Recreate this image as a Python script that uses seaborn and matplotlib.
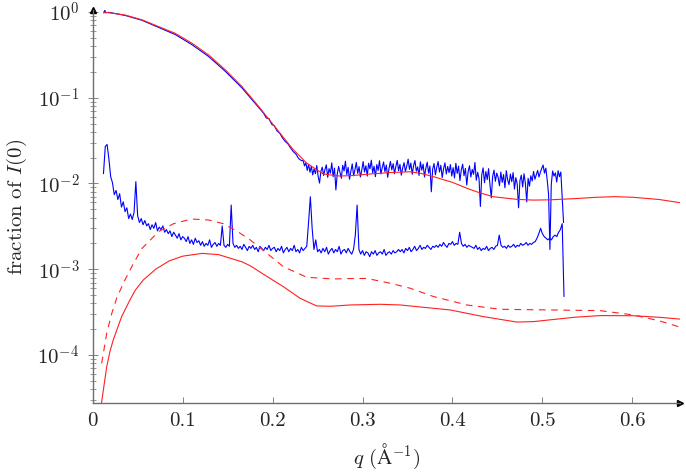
import numpy as np
import pandas as pd
import matplotlib
matplotlib.use('Agg')
import matplotlib.pyplot as plt
from matplotlib.ticker import FuncFormatter, LogLocator, FixedLocator, NullFormatter
import seaborn as sns

# measured curve, upper: Guinier region read point by point (q in 1/A)
hi_head_q = [0.0125, 0.0135, 0.0145, 0.018, 0.025, 0.0363, 0.0548, 0.0733, 0.0919, 0.1105,
             0.129, 0.1475, 0.166, 0.1847, 0.190, 0.193, 0.196, 0.199, 0.202, 0.205,
             0.208, 0.211, 0.214, 0.217, 0.220, 0.223, 0.226, 0.229, 0.232]
hi_head_I = [0.97, 1.05, 0.98, 0.99, 0.96, 0.91, 0.80, 0.66, 0.545, 0.415,
             0.302, 0.203, 0.130, 0.0765, 0.066, 0.058, 0.057, 0.049, 0.047, 0.041,
             0.0385, 0.034, 0.031, 0.029, 0.026, 0.0235, 0.022, 0.0195, 0.0185]

# upper curve, noisy tail (units of 1e-3), evenly sampled q = 0.234 .. 0.5235
hi_tail_start, hi_tail_end = 0.234, 0.5235
hi_tail_milli = [
    18.5, 16.0, 17.5, 14.2, 16.8, 13.5, 15.9, 12.6, 14.8, 13.0, 16.2, 12.1, 10.1, 13.8, 15.5, 12.4, 14.6,
    16.5, 11.8, 14.9, 13.2, 17.4, 12.0, 15.1, 8.4, 12.9, 15.8, 13.4, 11.5, 16.3, 14.0, 18.2, 12.7, 15.4,
    11.2, 13.9, 16.9, 12.3, 14.5, 17.6, 13.1, 15.7, 11.9, 14.3,
    18.0, 13.6, 16.1, 12.2, 17.2, 14.8, 18.7, 13.3, 15.9, 12.0, 16.6, 14.2, 18.4, 12.9, 15.3, 17.8, 13.7,
    16.4, 11.8, 15.0, 18.1, 14.4, 17.0, 13.0, 15.8, 18.6, 14.1, 16.7, 12.5, 15.2, 17.5, 13.8, 16.0,
    19.2, 14.6, 17.3, 12.8, 16.2, 18.5, 13.9, 15.6, 12.4, 17.9, 14.3, 16.8, 11.9, 15.1, 17.7, 13.2, 16.0,
    8.0, 14.7, 17.1, 12.6, 15.5, 18.0, 13.6, 16.3, 11.7, 14.9, 17.4, 12.9, 15.8, 13.4, 16.6, 12.2,
    15.3, 11.6, 17.2, 13.1, 15.9, 10.8, 14.4, 16.8, 12.3, 15.0, 9.6, 13.7, 16.1, 11.9, 14.6, 12.8, 17.6,
    10.9, 13.5, 11.4, 5.4, 12.6, 15.2, 10.2, 13.8, 11.1, 14.9, 9.8, 6.8, 12.1, 14.3, 10.6, 13.2,
    11.8, 9.4, 13.6, 10.3, 12.7, 8.9, 14.1, 11.0, 9.7, 12.9, 10.5, 13.4, 8.6, 11.7, 9.9, 5.2, 10.8,
    12.5, 9.1, 13.0, 10.1, 6.1, 11.5, 9.3, 12.3, 10.7, 13.8, 11.2, 12.6, 14.2, 11.9, 13.5, 15.0,
    16.4, 13.2, 15.1, 11.0, 7.5, 1.7, 9.8, 14.0, 12.2, 13.3, 10.4, 14.1, 12.0, 13.6, 7.0, 3.5,
]

# measured curve, lower (units of 1e-3), evenly sampled q = 0.012 .. 0.524
lo_start, lo_end = 0.012, 0.524
lo_milli = [
    13.0, 27.0, 28.5, 19.5, 12.0,
    10.2, 7.4, 8.3, 6.5, 7.6, 5.3, 6.1, 4.7, 5.2, 3.9,
    4.4, 3.8, 4.6, 10.5,
    4.2, 3.5, 3.9, 3.3, 3.7, 3.2,
    3.4, 2.9, 3.3, 3.0, 3.5, 2.8, 3.1, 2.9, 3.2, 2.7,
    2.9, 2.6, 2.8, 2.4, 2.7, 2.5, 2.3, 2.6, 2.2, 2.4,
    2.3, 2.1, 2.4, 2.0, 2.2, 1.95, 2.3, 2.05, 2.15, 1.9,
    2.1, 1.85, 2.0, 1.9, 2.2, 1.8, 1.95, 2.05, 1.85, 2.0, 1.9,
    3.2, 1.9, 1.8, 1.95, 1.85, 5.6, 2.0, 1.8,
    1.9, 1.75, 1.85, 1.7, 1.95, 1.8, 1.65, 1.85, 1.75, 1.9, 1.7, 1.8, 1.6, 1.85, 1.75, 1.65, 1.8, 1.7,
    1.9, 1.65, 1.75,
    1.8, 1.6, 1.75, 1.65, 1.85, 1.55, 1.7, 1.8, 1.6, 1.75, 1.65, 1.9, 1.6, 1.7, 1.55, 1.8, 1.65, 1.75, 1.85,
    3.5, 7.0, 3.0, 1.7, 2.2, 1.6,
    1.7, 1.55, 1.75, 1.6, 1.8, 1.5, 1.65, 1.75, 1.55, 1.7, 1.6, 1.85, 1.5, 1.65, 1.7, 1.55, 1.75, 1.6,
    1.5, 1.7,
    2.5, 5.6, 1.7,
    1.5, 1.65, 1.45, 1.6, 1.55, 1.4, 1.6, 1.5, 1.65, 1.45, 1.55, 1.6, 1.5, 1.7, 1.45, 1.55, 1.6, 1.5,
    1.65, 1.55, 1.6, 1.7,
    1.6, 1.7, 1.55, 1.75, 1.65, 1.8, 1.6, 1.7, 1.85, 1.65, 1.75, 1.9, 1.7, 1.8, 1.75, 1.9, 1.8, 1.7,
    1.85, 1.8,
    1.9, 1.8, 1.95, 1.85, 2.05, 1.9, 1.8, 2.0, 1.95, 2.1, 1.9, 2.0, 1.95, 2.7, 2.0, 1.85, 1.95, 1.8,
    1.9, 1.85,
    1.8, 1.75, 1.9, 1.7, 1.8, 1.65, 1.75, 1.7, 1.85, 1.65, 1.75, 1.8, 1.7, 1.85, 1.9,
    2.5, 1.9,
    1.8, 1.85, 1.75, 1.9, 1.8, 1.85, 1.95, 1.8, 1.9, 1.85, 2.0, 1.9, 1.95, 2.05, 1.9, 2.0, 1.95, 2.05,
    2.1, 2.3, 2.6, 3.0, 2.6, 2.4, 2.3, 2.2, 2.3, 2.2, 2.4, 2.5, 2.4, 2.7, 2.9, 3.4, 0.48,
]

# model curves
fit_hi_q = [0.012, 0.0363, 0.0548, 0.0733, 0.0919, 0.1105, 0.129, 0.1475, 0.166, 0.1847,
            0.2084, 0.222, 0.238, 0.2565, 0.275, 0.29, 0.3085, 0.33, 0.353, 0.365,
            0.379, 0.40, 0.416, 0.43, 0.4456, 0.4716, 0.49, 0.5087, 0.535, 0.56,
            0.58, 0.601, 0.63, 0.657]
fit_hi_I = [1.0, 0.92, 0.81, 0.675, 0.563, 0.431, 0.315, 0.211, 0.135, 0.0787,
            0.0385, 0.0255, 0.0172, 0.0129, 0.0122, 0.0124, 0.0129, 0.0134, 0.0137, 0.0131,
            0.0120, 0.0103, 0.0088, 0.0078, 0.0070, 0.00653, 0.0064, 0.00645, 0.00665, 0.0069,
            0.00702, 0.0069, 0.0065, 0.00588]

fit_lo_q = [0.0095, 0.010, 0.0156, 0.0192, 0.0229, 0.0322, 0.0415, 0.0474, 0.0563, 0.070,
            0.085, 0.100, 0.1216, 0.14, 0.166, 0.175, 0.188, 0.200, 0.212, 0.2306,
            0.249, 0.265, 0.286, 0.3196, 0.342, 0.3975, 0.4345, 0.4716, 0.490, 0.5087,
            0.535, 0.5643, 0.601, 0.63, 0.657]
fit_lo_I = [2.4e-5, 2.85e-5, 7.3e-5, 1.1e-4, 1.5e-4, 2.8e-4, 4.4e-4, 5.7e-4, 7.5e-4, 1.0e-3,
            1.25e-3, 1.42e-3, 1.53e-3, 1.48e-3, 1.22e-3, 1.1e-3, 9.0e-4, 7.5e-4, 6.26e-4, 4.58e-4,
            3.73e-4, 3.7e-4, 3.83e-4, 3.9e-4, 3.83e-4, 3.35e-4, 2.8e-4, 2.42e-4, 2.45e-4, 2.57e-4,
            2.75e-4, 2.88e-4, 2.87e-4, 2.75e-4, 2.6e-4]

fit_dash_q = [0.010, 0.0156, 0.021, 0.0267, 0.035, 0.045, 0.0548, 0.0734, 0.090, 0.110,
              0.129, 0.145, 0.160, 0.175, 0.190, 0.212, 0.238, 0.2676, 0.29, 0.305,
              0.331, 0.353, 0.379, 0.416, 0.453, 0.5087, 0.564, 0.601, 0.63, 0.657]
fit_dash_I = [8.0e-5, 1.79e-4, 3.0e-4, 4.6e-4, 7.2e-4, 1.15e-3, 1.75e-3, 2.75e-3, 3.4e-3, 3.85e-3,
              3.75e-3, 3.4e-3, 2.8e-3, 2.2e-3, 1.65e-3, 1.07e-3, 8.05e-4, 7.7e-4, 7.8e-4, 7.8e-4,
              6.86e-4, 6.0e-4, 4.8e-4, 3.83e-4, 3.41e-4, 3.35e-4, 3.29e-4, 2.93e-4, 2.5e-4, 2.05e-4]

x_ticks = [0, 0.1, 0.2, 0.3, 0.4, 0.5, 0.6]

# ---- assemble
hi_tail_I = np.array(hi_tail_milli) * 1e-3
hi_q = np.concatenate([hi_head_q, np.linspace(hi_tail_start, hi_tail_end, len(hi_tail_I))])
hi_I = np.concatenate([hi_head_I, hi_tail_I])
lo_I = np.array(lo_milli) * 1e-3
lo_q = np.linspace(lo_start, lo_end, len(lo_I))

sns.set_style('ticks')
plt.rcParams['font.family'] = ['cmr10', 'DejaVu Serif']
plt.rcParams['mathtext.fontset'] = 'cm'
plt.rcParams['axes.formatter.use_mathtext'] = True

fig = plt.figure(figsize=(6.86, 4.73), dpi=100)
ax = fig.add_axes([0.1351, 0.1473, 0.8562, 0.8316])

blue = '#0000ff'
red = '#ff2020'
for q, I in [(hi_q, hi_I), (lo_q, lo_I)]:
    sns.lineplot(x=q, y=I, ax=ax, sort=False, estimator=None, color=blue, lw=0.8)
sns.lineplot(x=fit_hi_q, y=fit_hi_I, ax=ax, sort=False, estimator=None, color=red, lw=0.8)
sns.lineplot(x=fit_lo_q, y=fit_lo_I, ax=ax, sort=False, estimator=None, color=red, lw=0.8)
sns.lineplot(x=fit_dash_q, y=fit_dash_I, ax=ax, sort=False, estimator=None, color=red, lw=0.8,
             linestyle=(0, (6, 5)))

ax.set_yscale('log')
ax.set_xlim(0, 0.653)
ax.set_ylim(2.73e-5, 1.055)

ax.xaxis.set_major_locator(FixedLocator(x_ticks))
ax.xaxis.set_major_formatter(FuncFormatter(lambda v, p: '0' if v == 0 else '%g' % v))
ax.yaxis.set_major_locator(LogLocator(base=10, numticks=10))
ax.yaxis.set_minor_locator(LogLocator(base=10, subs=np.arange(2, 10), numticks=20))
ax.yaxis.set_major_formatter(FuncFormatter(lambda v, p: r'$10^{%d}$' % round(np.log10(v))))
ax.yaxis.set_minor_formatter(NullFormatter())

axis_gray = '#6e6e6e'
for s in ['top', 'right']:
    ax.spines[s].set_visible(False)
for s in ['left', 'bottom']:
    ax.spines[s].set_color(axis_gray)
    ax.spines[s].set_linewidth(1.0)
ax.tick_params(axis='x', which='major', direction='in', length=4.5, width=0.6, color=axis_gray,
               labelsize=15, pad=6)
ax.tick_params(axis='y', which='major', direction='inout', length=7, width=0.6, color=axis_gray,
               labelsize=15, pad=6)
ax.tick_params(axis='y', which='minor', direction='inout', length=5, width=0.5, color=axis_gray)

# arrow heads at the ends of the axis lines
ax.plot([1], [0], marker='>', color='k', ms=4, transform=ax.transAxes, clip_on=False)
ax.plot([0], [1], marker='^', color='k', ms=4, transform=ax.transAxes, clip_on=False)

ax.set_xlabel(r'$q\ (\mathrm{\AA}^{-1})$', fontsize=15)
ax.set_ylabel(r'fraction of $I(0)$', fontsize=15)
ax.xaxis.set_label_coords(0.5, -0.098)
ax.yaxis.set_label_coords(-0.108, 0.5)

fig.savefig('out.png', dpi=100)
